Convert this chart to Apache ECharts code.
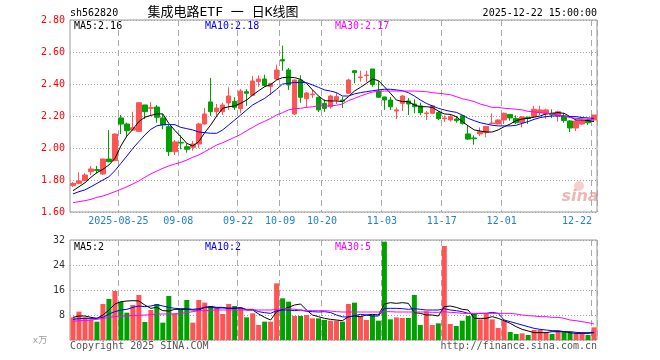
<!DOCTYPE html>
<html><head><meta charset="utf-8">
<script src="https://cdn.jsdelivr.net/npm/echarts@6/dist/echarts.min.js"></script>
<style>html,body{margin:0;padding:0;background:#fff}#c{width:660px;height:360px}</style>
</head><body><div id="c"></div>
<script>
const dates = ['2025-08-13','2025-08-14','2025-08-15','2025-08-18','2025-08-19','2025-08-20','2025-08-21','2025-08-22',
'2025-08-25','2025-08-26','2025-08-27','2025-08-28','2025-08-29',
'2025-09-01','2025-09-02','2025-09-03','2025-09-04','2025-09-05','2025-09-08','2025-09-09','2025-09-10','2025-09-11','2025-09-12',
'2025-09-15','2025-09-16','2025-09-17','2025-09-18','2025-09-19','2025-09-22','2025-09-23','2025-09-24','2025-09-25','2025-09-26','2025-09-29','2025-09-30',
'2025-10-09','2025-10-10','2025-10-13','2025-10-14','2025-10-15','2025-10-16','2025-10-17','2025-10-20','2025-10-21','2025-10-22','2025-10-23','2025-10-24',
'2025-10-27','2025-10-28','2025-10-29','2025-10-30','2025-10-31',
'2025-11-03','2025-11-04','2025-11-05','2025-11-06','2025-11-07','2025-11-10','2025-11-11','2025-11-12','2025-11-13','2025-11-14',
'2025-11-17','2025-11-18','2025-11-19','2025-11-20','2025-11-21','2025-11-24','2025-11-25','2025-11-26','2025-11-27','2025-11-28',
'2025-12-01','2025-12-02','2025-12-03','2025-12-04','2025-12-05','2025-12-08','2025-12-09','2025-12-10','2025-12-11','2025-12-12',
'2025-12-15','2025-12-16','2025-12-17','2025-12-18','2025-12-19','2025-12-22'];

const opens = [1.765,1.779,1.796,1.852,1.865,1.838,1.931,1.921,2.188,2.150,
2.112,2.104,2.269,2.248,2.256,2.188,2.133,1.977,2.035,2.008,
2.004,2.025,2.150,2.288,2.227,2.227,2.281,2.292,2.246,2.352,
2.329,2.415,2.431,2.385,2.431,2.552,2.488,2.213,2.425,2.308,
2.333,2.317,2.279,2.258,2.300,2.300,2.342,2.483,2.440,2.452,
2.494,2.356,2.319,2.300,2.231,2.279,2.294,2.275,2.263,2.215,
2.217,2.221,2.183,2.175,2.181,2.202,2.088,2.063,2.088,2.096,
2.152,2.150,2.175,2.210,2.185,2.158,2.192,2.196,2.221,2.213,
2.217,2.202,2.200,2.169,2.125,2.150,2.175,2.175];
const closes = [1.779,1.794,1.831,1.869,1.860,1.931,1.915,2.087,2.150,2.108,
2.127,2.283,2.227,2.252,2.192,2.144,1.977,2.038,2.031,1.992,
2.025,2.150,2.213,2.227,2.250,2.269,2.325,2.254,2.356,2.342,
2.419,2.431,2.390,2.402,2.488,2.544,2.394,2.425,2.317,2.344,
2.337,2.238,2.248,2.325,2.321,2.292,2.425,2.471,2.444,2.456,
2.396,2.317,2.300,2.258,2.238,2.325,2.275,2.258,2.221,2.219,
2.263,2.183,2.188,2.196,2.171,2.154,2.056,2.058,2.102,2.135,
2.156,2.175,2.217,2.188,2.158,2.194,2.185,2.242,2.238,2.238,
2.208,2.227,2.171,2.125,2.169,2.169,2.158,2.206];
const lows = [1.757,1.773,1.792,1.831,1.842,1.831,1.910,1.917,2.087,2.071,
2.108,2.100,2.181,2.200,2.158,2.117,1.950,1.956,1.992,1.971,
1.983,1.998,2.146,2.200,2.202,2.206,2.238,2.238,2.217,2.263,
2.325,2.383,2.383,2.331,2.425,2.483,2.363,2.206,2.283,2.252,
2.313,2.225,2.225,2.246,2.275,2.250,2.338,2.404,2.415,2.410,
2.383,2.313,2.238,2.238,2.181,2.231,2.206,2.217,2.206,2.175,
2.213,2.175,2.163,2.165,2.158,2.146,2.050,2.021,2.075,2.067,
2.150,2.148,2.150,2.171,2.150,2.129,2.150,2.192,2.206,2.183,
2.188,2.165,2.158,2.100,2.106,2.144,2.144,2.165];
const highs = [1.787,1.848,1.842,1.888,1.888,1.935,2.112,2.092,2.206,2.158,
2.227,2.288,2.269,2.288,2.269,2.213,2.144,2.050,2.079,2.029,
2.044,2.158,2.250,2.438,2.275,2.283,2.379,2.317,2.369,2.367,
2.450,2.454,2.458,2.408,2.521,2.640,2.500,2.429,2.454,2.348,
2.363,2.321,2.304,2.333,2.346,2.321,2.433,2.488,2.483,2.483,
2.494,2.421,2.321,2.319,2.254,2.331,2.313,2.304,2.283,2.231,
2.267,2.231,2.204,2.213,2.200,2.206,2.142,2.079,2.129,2.138,
2.217,2.179,2.221,2.213,2.204,2.200,2.196,2.263,2.263,2.246,
2.242,2.233,2.217,2.175,2.175,2.175,2.185,2.206];

const ma5 = [1.733,1.758,1.783,1.817,1.846,1.867,1.894,1.935,2.013,2.075,
2.117,2.165,2.192,2.204,2.213,2.213,2.154,2.110,2.071,2.029,
2.013,2.040,2.096,2.144,2.200,2.248,2.258,2.263,2.279,2.300,
2.331,2.358,2.383,2.396,2.425,2.440,2.442,2.440,2.429,2.404,
2.363,2.325,2.296,2.294,2.294,2.290,2.321,2.356,2.379,2.404,
2.431,2.421,2.383,2.342,2.300,2.290,2.290,2.269,2.258,2.258,
2.254,2.231,2.213,2.210,2.196,2.165,2.138,2.113,2.106,2.100,
2.100,2.113,2.133,2.150,2.171,2.181,2.185,2.193,2.200,2.213,
2.217,2.221,2.217,2.196,2.175,2.175,2.171,2.165];
const ma10 = [1.713,1.727,1.738,1.758,1.779,1.800,1.821,1.858,1.904,1.950,
1.998,2.040,2.081,2.117,2.138,2.146,2.146,2.146,2.129,2.121,
2.113,2.100,2.096,2.092,2.092,2.113,2.144,2.175,2.206,2.238,
2.269,2.290,2.310,2.338,2.367,2.400,2.404,2.410,2.410,2.408,
2.394,2.379,2.363,2.356,2.346,2.325,2.325,2.338,2.346,2.352,
2.358,2.363,2.367,2.367,2.363,2.358,2.346,2.325,2.300,2.279,
2.263,2.248,2.238,2.229,2.223,2.206,2.185,2.171,2.158,2.150,
2.142,2.138,2.138,2.138,2.142,2.154,2.165,2.179,2.190,2.196,
2.200,2.200,2.200,2.196,2.196,2.190,2.188,2.185];
const ma30 = [1.658,1.665,1.671,1.679,1.692,1.700,1.713,1.727,1.742,1.758,
1.775,1.794,1.817,1.838,1.856,1.873,1.888,1.900,1.910,1.925,
1.942,1.956,1.977,1.998,2.019,2.033,2.050,2.067,2.085,2.108,
2.129,2.150,2.167,2.185,2.206,2.221,2.238,2.246,2.248,2.254,
2.258,2.263,2.263,2.263,2.267,2.275,2.296,2.310,2.325,2.338,
2.350,2.354,2.356,2.356,2.356,2.356,2.356,2.356,2.354,2.352,
2.346,2.342,2.338,2.333,2.321,2.308,2.300,2.290,2.275,2.265,
2.254,2.254,2.248,2.246,2.242,2.238,2.229,2.225,2.221,2.217,
2.213,2.206,2.200,2.190,2.185,2.183,2.179,2.175];

const volumes = [7.25,9.07,7.25,6.61,5.87,11.52,13.12,15.68,12.16,8.75,
11.2,14.4,5.76,9.6,11.52,5.55,14.08,8.53,9.81,12.8,
5.55,12.8,11.95,10.88,10.45,8.32,11.52,10.88,10.45,7.25,
8.53,4.8,5.87,5.87,18.13,13.33,12.27,7.68,7.68,8.0,
6.93,6.93,6.4,6.19,6.19,5.87,11.52,11.95,7.68,6.4,
8.0,6.19,31.47,6.61,7.25,7.04,7.04,14.4,4.8,9.17,
4.8,5.33,30.08,5.12,4.48,6.19,7.68,8.32,6.61,8.32,
6.61,3.84,6.19,2.56,1.92,2.13,1.6,3.2,3.2,2.35,
1.92,2.67,2.67,2.35,2.13,1.92,1.6,4.05];
const volMa5 = [7.25,7.68,7.68,7.25,6.93,8.0,9.6,11.52,12.27,12.48,
12.59,12.48,11.2,10.13,10.45,9.39,9.28,9.81,9.81,9.81,
9.6,9.6,10.45,10.67,10.45,10.45,10.03,10.13,10.35,9.6,
9.6,8.32,7.25,6.4,9.07,9.81,10.45,11.2,11.52,9.6,
8.0,7.47,6.93,6.61,6.4,6.19,7.47,7.68,7.47,8.0,
8.21,8.0,11.52,11.95,11.73,11.95,11.73,8.75,8.53,8.0,
8.0,7.68,10.67,10.88,10.45,9.81,9.6,6.93,6.93,6.93,
7.47,6.93,6.19,5.33,4.27,3.41,2.88,2.35,2.35,2.35,
2.67,2.67,2.67,2.35,2.13,2.13,2.13,2.35];
const volMa10 = [6.61,6.83,6.93,6.93,6.93,7.25,8.32,9.07,9.6,9.81,
10.45,10.88,10.67,10.88,11.31,10.88,10.45,10.13,10.03,10.03,
9.81,10.03,10.45,10.45,10.24,10.24,10.24,10.24,10.24,9.81,
9.81,9.07,8.75,8.53,9.39,9.6,9.6,9.39,9.6,9.17,
9.07,8.96,9.07,8.8,8.0,7.41,7.34,7.77,8.21,8.0,
7.68,7.68,10.13,10.13,10.13,10.03,9.81,10.03,9.81,9.6,
9.6,9.6,10.03,9.6,9.39,9.07,8.53,8.32,8.53,8.53,
8.85,8.53,6.4,5.87,5.33,4.8,4.27,3.73,3.41,3.2,
2.99,2.99,2.67,2.67,2.45,2.35,2.35,2.45];
const volMa30 = [5.97,6.19,6.19,6.4,6.61,6.93,7.25,7.47,7.68,7.68,
7.89,7.89,8.0,8.11,8.32,8.32,8.32,8.32,8.53,8.75,
9.07,9.39,9.39,9.49,9.6,9.6,9.6,9.6,9.6,9.6,
9.6,9.6,9.6,9.6,9.81,10.03,10.03,9.81,9.6,9.39,
9.39,9.39,9.39,9.28,9.07,8.96,8.96,8.96,8.96,8.96,
8.96,8.96,9.07,9.07,8.96,8.96,8.96,8.96,8.96,8.96,
8.85,8.85,9.07,8.85,8.75,8.53,8.53,8.53,8.53,8.53,
8.53,8.53,8.53,8.53,8.32,8.0,7.79,7.68,7.47,7.47,
7.25,7.25,6.93,6.4,6.19,5.87,5.55,5.12];

const tickDates = ['2025-08-25','2025-09-08','2025-09-22','2025-10-09','2025-10-20','2025-11-03','2025-11-17','2025-12-01','2025-12-22'];
const tickLabels = ['2025-08-25','09-08','09-22','10-09','10-20','11-03','11-17','12-01','12-22'];
const priceLegend = ['MA5:2.16','MA10:2.18','MA30:2.17'];
const volLegend = ['MA5:2','MA10:2','MA30:5'];
const titleTexts = ['sh562820','集成电路ETF 一 日K线图','2025-12-22 15:00:00'];
const footTexts = ['Copyright 2025 SINA.COM','http://finance.sina.com.cn'];
const volUnit = 'x万';

const UP = '#ff5454', DOWN = '#00a000';
const MONO = '"DejaVu Sans Mono", "Liberation Mono", monospace';
const lineColors = ['#000000','#0000ff','#ff00ff'];

const chart = echarts.init(document.getElementById('c'), null, {renderer:'canvas'});
const tickIdx = new Set(tickDates.map(d => dates.indexOf(d)));
const isTick = (i) => tickIdx.has(i);

function lineSeries(name, data, color, xi) {
  return {name, type:'line', data, xAxisIndex:xi, yAxisIndex:xi, showSymbol:false, symbol:'none',
    lineStyle:{color, width:1}, itemStyle:{color}, z:5, silent:true};
}
function txt(text, x, y, fill, align, font) {
  return {type:'text', silent:true, style:{text, x, y, fill, font: font || ('10px ' + MONO),
    textAlign: align || 'left', align: align || 'left', textVerticalAlign:'middle', verticalAlign:'middle'}};
}

const xCommon = {
  type:'category', data:dates, boundaryGap:true,
  axisLine:{show:false}, axisTick:{show:false},
  splitLine:{show:true, interval:(i)=>isTick(i), lineStyle:{color:'#a8a8a8', type:[6,4], width:1}}
};

chart.setOption({
  animation:false,
  backgroundColor:'#ffffff',
  grid:[
    {left:70, right:63, top:20, height:192, show:true, borderColor:'#999', borderWidth:1, backgroundColor:'transparent'},
    {left:70, right:63, top:240, height:100, show:true, borderColor:'#999', borderWidth:1, backgroundColor:'transparent'}
  ],
  xAxis:[
    Object.assign({}, xCommon, {gridIndex:0,
      axisLabel:{show:true, interval:(i)=>isTick(i), margin:4, color:'#1f7fd0', fontFamily:MONO, fontSize:10,
        formatter:(v)=>{const k=tickDates.indexOf(v); if(k<0) return ''; return k===tickDates.length-1 ? '{b|'+tickLabels[k]+'}' : '{a|'+tickLabels[k]+'}';},
        rich:{a:{color:'#1f7fd0', fontFamily:MONO, fontSize:10, padding:[0,5,0,0]}, b:{color:'#1f7fd0', fontFamily:MONO, fontSize:10, padding:[0,34,0,0]}}}}),
    Object.assign({}, xCommon, {gridIndex:1, axisLabel:{show:false}})
  ],
  yAxis:[
    {gridIndex:0, type:'value', min:1.6, max:2.8, interval:0.2, position:'left',
      axisLine:{show:false}, axisTick:{show:false},
      axisLabel:{color:'#ff0000', fontFamily:MONO, fontSize:10, margin:5, formatter:(v)=>v.toFixed(2)},
      splitLine:{show:true, lineStyle:{color:'#a0a0a0', type:[1,2], width:1}}},
    {gridIndex:1, type:'value', min:0, max:32, interval:8, position:'left',
      axisLine:{show:false}, axisTick:{show:false},
      axisLabel:{color:'#333', fontFamily:MONO, fontSize:10, margin:5, formatter:(v)=> v===0 ? '' : String(v)},
      splitLine:{show:true, lineStyle:{color:'#a0a0a0', type:[1,2], width:1}}}
  ],
  series:[
    {type:'candlestick', name:'K', xAxisIndex:0, yAxisIndex:0, barWidth:5,
      data: opens.map((o,i)=>[o, closes[i], lows[i], highs[i]]),
      itemStyle:{color:UP, color0:DOWN, borderColor:UP, borderColor0:DOWN, borderWidth:1}, z:3, silent:true},
    lineSeries('MA5', ma5, lineColors[0], 0),
    lineSeries('MA10', ma10, lineColors[1], 0),
    lineSeries('MA30', ma30, lineColors[2], 0),
    {type:'bar', name:'VOL', xAxisIndex:1, yAxisIndex:1, barWidth:5, silent:true,
      data: volumes.map((v,i)=>({value:v, itemStyle:{color: closes[i] >= opens[i] ? UP : DOWN}})), z:3},
    lineSeries('VMA5', volMa5, lineColors[0], 1),
    lineSeries('VMA10', volMa10, lineColors[1], 1),
    lineSeries('VMA30', volMa30, lineColors[2], 1)
  ],
  graphic:[
    txt(titleTexts[0], 70, 13, '#000'),
    txt(titleTexts[1], 223, 13, '#000', 'center', '13px ' + MONO + ', "Noto Sans CJK SC"'),
    txt(titleTexts[2], 597, 13, '#000', 'right'),
    txt(priceLegend[0], 74, 26, lineColors[0]),
    txt(priceLegend[1], 205, 26, lineColors[1]),
    txt(priceLegend[2], 335, 26, lineColors[2]),
    txt(volLegend[0], 74, 247, lineColors[0]),
    txt(volLegend[1], 205, 247, lineColors[1]),
    txt(volLegend[2], 335, 247, lineColors[2]),
    txt(footTexts[0], 70, 346, '#555'),
    txt(footTexts[1], 597, 346, '#555', 'right'),
    txt(volUnit, 40, 341, '#999', 'center', '9px ' + MONO + ', "Noto Sans CJK SC"'),
    {type:'circle', silent:true, shape:{cx:579, cy:186, r:5}, style:{fill:'rgba(230,120,120,0.35)'}},
    txt('sina', 580, 197, 'rgba(220,90,90,0.45)', 'center', 'italic bold 16px "DejaVu Sans"')
  ]
});
</script></body></html>
